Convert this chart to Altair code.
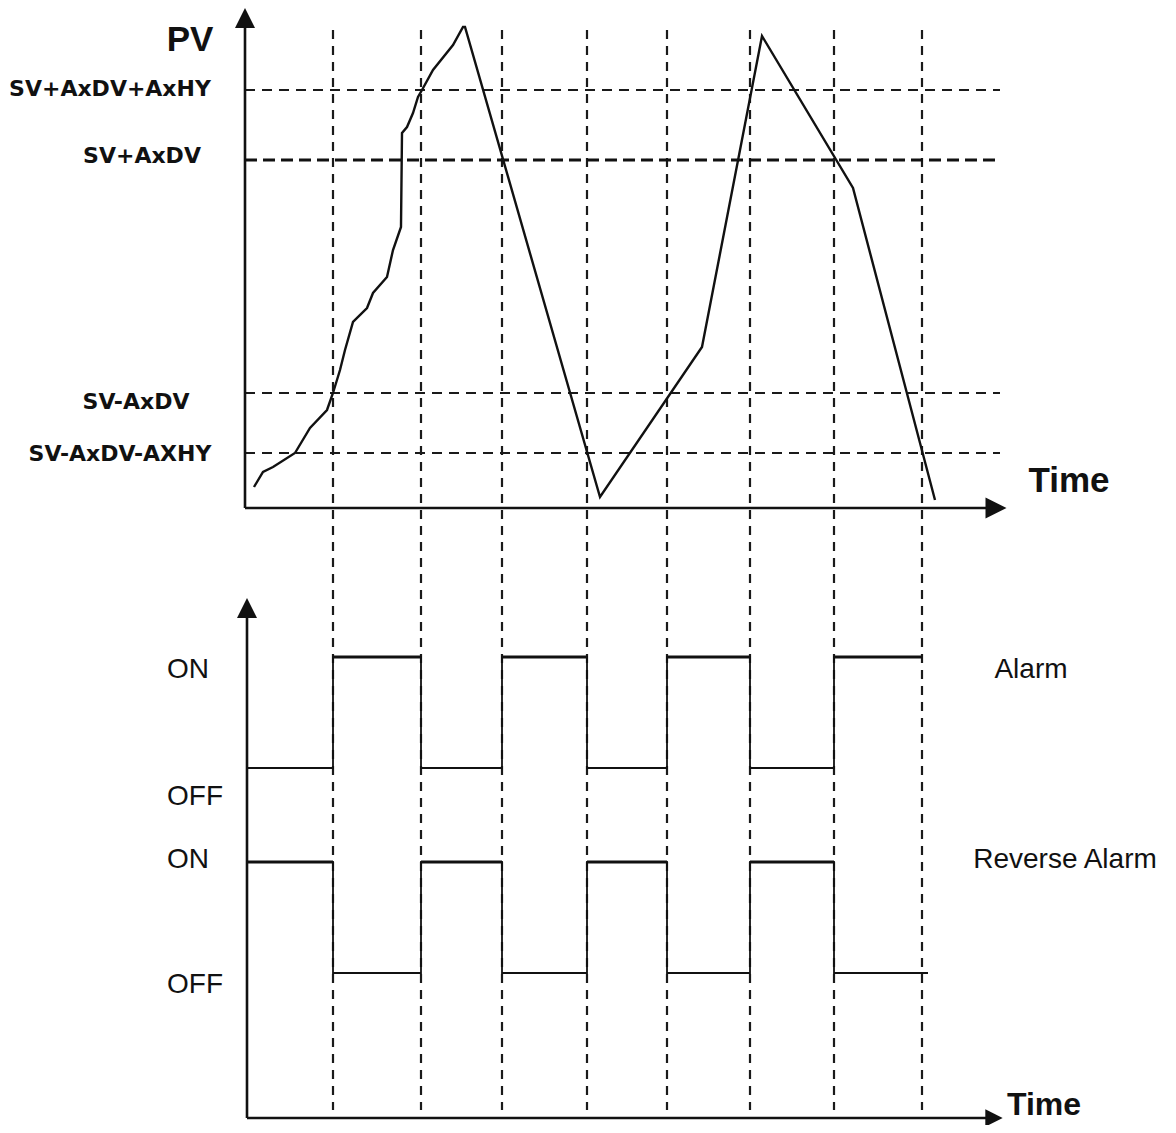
import altair as alt
import pandas as pd

# ---------------- data ----------------
# times (arbitrary units, 0 = PV axis) at which the alarm output switches
switch_t = [88, 176, 257, 342, 422, 505, 589, 677]

# process value curve
pv_t = [9, 18, 28, 50, 65, 82, 88, 95, 100, 108, 122, 128, 142, 148, 156, 157,
        162, 168, 173, 177, 188, 208, 218, 220, 355, 457, 517, 608, 690]
pv_v = [21, 36, 41, 55, 80, 98, 115, 138, 158, 186, 200, 215, 231, 258, 281, 375,
        381, 395, 411, 418, 438, 463, 481, 481, 11, 161, 472, 320, 8]

# threshold levels
thr_names = ["SV+AxDV+AxHY", "SV+AxDV", "SV-AxDV", "SV-AxDV-AXHY"]
thr_vals = [418, 348, 115, 55]
thr_end = 755

# alarm outputs (1 = ON, 0 = OFF)
alarm_t = [2, 88, 176, 257, 342, 422, 505, 589, 677]
alarm_state = [0, 1, 0, 1, 0, 1, 0, 1, 1]
reverse_t = [2, 88, 176, 257, 342, 422, 505, 589, 683]
reverse_state = [1, 0, 1, 0, 1, 0, 1, 0, 0]

# ---------------- layout ----------------
W, H = 1160, 1117
X_DOM = [-237, 923]
PV_DOM = [-617, 500]
SIG_DOM = [-7, 1110]
alarm_base, reverse_base, amp = 350, 145, 111

SANS = "Liberation Sans, Arial, sans-serif"
BOLD = "DejaVu Sans, sans-serif"
INK = "#111111"

xs = alt.Scale(domain=X_DOM, nice=False, zero=False)
pvs = alt.Scale(domain=PV_DOM, nice=False, zero=False)
sgs = alt.Scale(domain=SIG_DOM, nice=False, zero=False)

def X(f="t"):
    return alt.X(f"{f}:Q", scale=xs, axis=None)

def Ypv(f="v"):
    return alt.Y(f"{f}:Q", scale=pvs, axis=None)

def Ysg(f="v"):
    return alt.Y(f"{f}:Q", scale=sgs, axis=None)

# vertical dashed guide lines through both panels
vdf = pd.DataFrame({"t": switch_t, "v": 478, "v2": -602})
vlines = alt.Chart(vdf).mark_rule(color="#1a1a1a", strokeWidth=2.2, strokeDash=[9, 7]).encode(
    x=X(), y=Ypv(), y2="v2")

# horizontal threshold lines
tdf = pd.DataFrame({"name": thr_names, "v": thr_vals, "t": 0, "t2": thr_end,
                    "w": [1.8, 2.8, 1.8, 1.8]})
hlines_thin = alt.Chart(tdf[tdf.w < 2]).mark_rule(color="#1a1a1a", strokeWidth=1.8, strokeDash=[10, 7]).encode(
    x=X(), x2="t2", y=Ypv())
hlines_thick = alt.Chart(tdf[tdf.w > 2]).mark_rule(color="#111", strokeWidth=2.8, strokeDash=[12, 6]).encode(
    x=X(), x2="t2", y=Ypv())

# threshold labels
lab_x = [-135, -103, -109, -125]
lab_dy = [-1, -4, 9, 1]
ldf = pd.DataFrame({"name": thr_names, "t": lab_x,
                    "v": [a - b for a, b in zip(thr_vals, lab_dy)]})
thr_labels = alt.Chart(ldf).mark_text(font=BOLD, fontWeight="bold", fontSize=22, color=INK,
                                      align="center", baseline="middle").encode(
    x=X(), y=Ypv(), text="name:N")

# PV curve
cdf = pd.DataFrame({"t": pv_t, "v": pv_v, "o": range(len(pv_t))})
curve = alt.Chart(cdf).mark_line(color=INK, strokeWidth=2.4).encode(
    x=X(), y=Ypv(), order="o:Q")

# top axes
top_axes_df = pd.DataFrame({"t": [0, 0], "v": [0, 0], "t2": [0, 745], "v2": [485, 0]})
top_axes = alt.Chart(top_axes_df).mark_rule(color=INK, strokeWidth=2.6).encode(
    x=X(), y=Ypv(), x2="t2", y2="v2")
up_arrow = "M0,-1L-1,1L1,1Z"
right_arrow = "M1,0L-1,-1L-1,1Z"
top_arrow_up = alt.Chart(pd.DataFrame({"t": [0], "v": [490]})).mark_point(
    shape=up_arrow, size=400, filled=True, color=INK, opacity=1, strokeWidth=0).encode(x=X(), y=Ypv())
top_arrow_right = alt.Chart(pd.DataFrame({"t": [751], "v": [0]})).mark_point(
    shape=right_arrow, size=440, filled=True, color=INK, opacity=1, strokeWidth=0).encode(x=X(), y=Ypv())

top_text_df = pd.DataFrame({"label": ["PV", "Time"], "t": [-55, 824], "v": [468, 27]})
top_text = alt.Chart(top_text_df).mark_text(font=SANS, fontWeight="bold", fontSize=35, color=INK,
                                            align="center", baseline="middle").encode(
    x=X(), y=Ypv(), text="label:N")

# square waves
adf = pd.DataFrame({"t": alarm_t, "v": [alarm_base + s * amp for s in alarm_state]})
rdf = pd.DataFrame({"t": reverse_t, "v": [reverse_base + s * amp for s in reverse_state]})
alarm_line = alt.Chart(adf).mark_line(color=INK, strokeWidth=1.8, interpolate="step-after").encode(
    x=X(), y=Ysg())
rev_line = alt.Chart(rdf).mark_line(color=INK, strokeWidth=1.8, interpolate="step-after").encode(
    x=X(), y=Ysg())

# ON segments drawn a little heavier, as in the original
on_rows = []
for ts, st, base in ((alarm_t, alarm_state, alarm_base), (reverse_t, reverse_state, reverse_base)):
    for i in range(len(ts) - 1):
        if st[i] == 1:
            on_rows.append({"t": ts[i], "t2": ts[i + 1], "v": base + amp})
on_df = pd.DataFrame(on_rows)
on_segs = alt.Chart(on_df).mark_rule(color=INK, strokeWidth=3).encode(x=X(), x2="t2", y=Ysg())

# bottom axes
bot_axes_df = pd.DataFrame({"t": [2, 2], "v": [0, 0], "t2": [2, 742], "v2": [503, 0]})
bot_axes = alt.Chart(bot_axes_df).mark_rule(color=INK, strokeWidth=2.6).encode(
    x=X(), y=Ysg(), x2="t2", y2="v2")
bot_arrow_up = alt.Chart(pd.DataFrame({"t": [2], "v": [510]})).mark_point(
    shape=up_arrow, size=400, filled=True, color=INK, opacity=1, strokeWidth=0).encode(x=X(), y=Ysg())
bot_arrow_right = alt.Chart(pd.DataFrame({"t": [749], "v": [0]})).mark_point(
    shape=right_arrow, size=300, filled=True, color=INK, opacity=1, strokeWidth=0).encode(x=X(), y=Ysg())

state_df = pd.DataFrame({"label": ["ON", "OFF", "ON", "OFF"], "t": [-78, -78, -78, -78],
                         "v": [448, 321, 258, 133]})
state_text = alt.Chart(state_df).mark_text(font=SANS, fontSize=28, color=INK,
                                           align="left", baseline="middle").encode(
    x=X(), y=Ysg(), text="label:N")
name_df = pd.DataFrame({"label": ["Alarm", "Reverse Alarm"], "t": [786, 820], "v": [448, 258]})
name_text = alt.Chart(name_df).mark_text(font=SANS, fontSize=28, color=INK,
                                         align="center", baseline="middle").encode(
    x=X(), y=Ysg(), text="label:N")
bot_time = alt.Chart(pd.DataFrame({"label": ["Time"], "t": [762], "v": [13]})).mark_text(
    font=SANS, fontWeight="bold", fontSize=32, color=INK, align="left", baseline="middle").encode(
    x=X(), y=Ysg(), text="label:N")

chart = alt.layer(
    vlines, hlines_thin, hlines_thick, thr_labels, curve, top_axes, top_arrow_up, top_arrow_right,
    top_text, alarm_line, rev_line, on_segs, bot_axes, bot_arrow_up, bot_arrow_right, state_text,
    name_text, bot_time
).resolve_scale(y="independent").properties(
    width=W, height=H, padding=0, autosize=alt.AutoSizeParams(type="none"),
    background="white"
).configure_view(stroke=None)

chart.save("out.html", embed_options={"renderer": "svg", "actions": False})
